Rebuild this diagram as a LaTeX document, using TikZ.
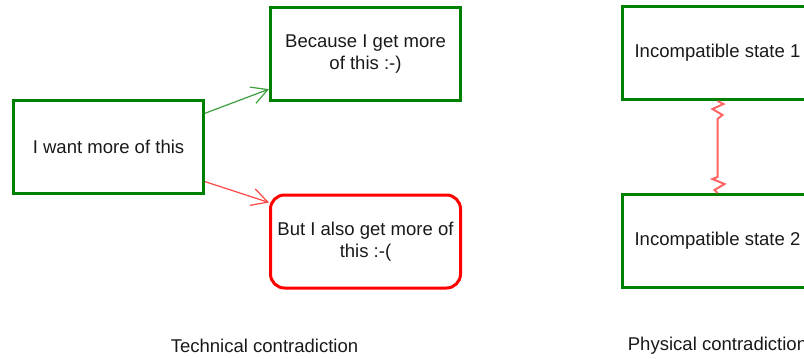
\documentclass[tikz,border=0pt]{standalone}
\usepackage{fontspec}
\setmainfont{Liberation Sans}
\usetikzlibrary{arrows.meta,calc}
\definecolor{boxgreen}{RGB}{0,128,0}
\definecolor{boxred}{RGB}{255,0,0}
\definecolor{arrowgreen}{RGB}{60,160,60}
\definecolor{arrowred}{RGB}{255,70,70}
\definecolor{zigred}{RGB}{255,100,100}
\definecolor{txt}{RGB}{25,25,25}
\begin{document}
\begin{tikzpicture}[x=0.75pt,y=-0.75pt,
  font=\fontsize{13.9pt}{16.5pt}\selectfont,
  gbox/.style={draw=boxgreen, line width=2.25pt, minimum width=142.5pt, minimum height=69.75pt, align=center, inner sep=0pt, text=txt},
  rbox/.style={gbox, draw=boxred, rounded corners=10.5pt},
  garrow/.style={draw=arrowgreen, line width=0.9pt, -{Straight Barb[length=12pt,width=13pt]}},
  rarrow/.style={draw=arrowred, line width=0.9pt, -{Straight Barb[length=12pt,width=13pt]}},
  zig/.style={draw=zigred, line width=1.5pt, line join=miter},
  caption/.style={text=txt, inner sep=0pt}
]
\useasboundingbox (0,0) rectangle (804,358);
\node[gbox] (want) at (108.5,146.5) {I want more of this};
\node[gbox] (because) at (365.5,54) {Because I get more\\of this :-)};
\node[rbox] (but) at (365.5,241.5) {But I also get more of\\this :-(};
\node[gbox] (s1) at (717.5,53) {Incompatible state 1};
\node[gbox] (s2) at (717.5,241) {Incompatible state 2};
\node[caption] (tech) at (264.5,346) {Technical contradiction};
\node[caption] (phys) at (717.5,346) {Physical contradiction};
\draw[garrow] (want.19.7) -- (because.200.6);
\draw[rarrow] (want.-20.2) -- (but.158.9);
\draw[zig] (s1.south) -- ++(6,3) -- ++(-11,5) -- ++(10,6) -- ++(-5,4)
  -- ($(s2.north)+(0,-16)$) -- ++(-5,2) -- ++(12,5) -- ++(-10,6) -- (s2.north);
\end{tikzpicture}
\end{document}
